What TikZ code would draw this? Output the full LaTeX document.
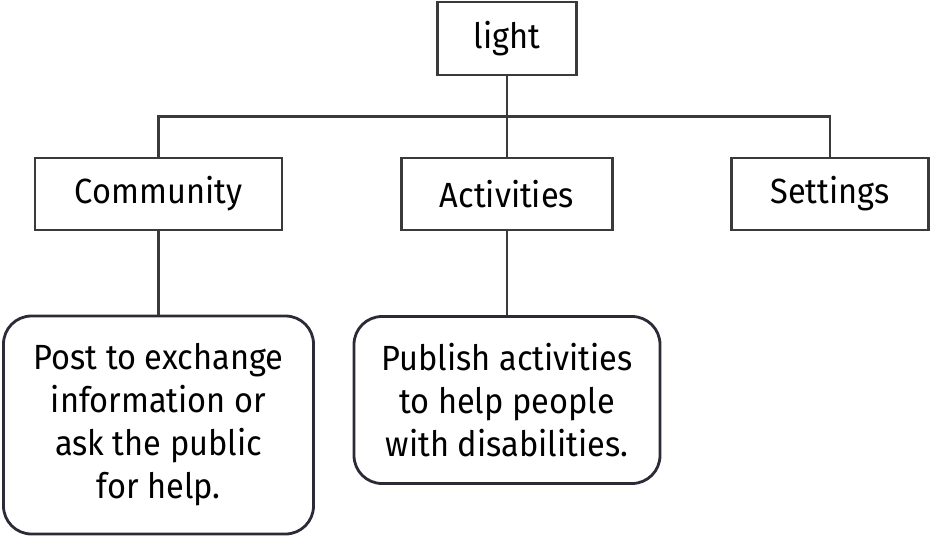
\documentclass[tikz,border=0pt]{standalone}
\usepackage{fontspec}
\setmainfont[FakeStretch=0.93]{Fira Sans}
\definecolor{linec}{HTML}{3A3A3A}
\definecolor{roundc}{HTML}{2B2B38}
\begin{document}
\begin{tikzpicture}[x=1pt,y=-1pt,
  sqbox/.style={draw=linec, line width=2.8pt, inner sep=0pt, minimum height=72pt,
    font=\fontsize{35}{42}\selectfont, text=black},
  rbox/.style={draw=roundc, line width=2.8pt, rounded corners=28pt, inner sep=0pt,
    align=center, font=\fontsize{35}{43}\selectfont, text=black},
  conn/.style={draw=linec, line width=2.8pt}]
\useasboundingbox (0,0) rectangle (933,537);
\node[sqbox, minimum width=139pt, minimum height=73pt] (light) at (507,38.5) {light};
\node[sqbox, minimum width=247pt] (community) at (158.5,194) {Community};
\node[sqbox, minimum width=211pt] (activities) at (507,194) {Activities};
\node[sqbox, minimum width=197pt] (settings) at (830,194) {Settings};
\node[rbox, minimum width=310pt, minimum height=218pt] (post) at (158.5,425)
  {Post to exchange\\information or\\ask the public\\for help.};
\node[rbox, minimum width=306pt, minimum height=167pt] (pub) at (507,400)
  {Publish activities\\to help people\\with disabilities.};
\coordinate (j) at (507,116.5);
\draw[conn] (light.south) -- (activities.north);
\draw[conn] (community.north) |- (j) -| (settings.north);
\draw[conn] (community.south) -- (post.north);
\draw[conn] (activities.south) -- (pub.north);
\end{tikzpicture}
\end{document}
